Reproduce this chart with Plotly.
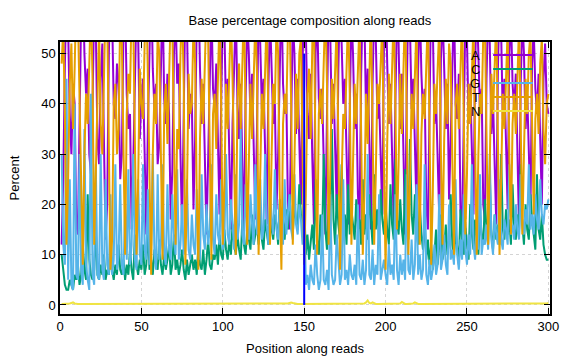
import plotly.graph_objects as go

positions = list(range(1, 301))

base_names = ["A", "C", "G", "T", "N"]
base_colors = ["#9400D3", "#009E73", "#56B4E9", "#E69F00", "#F0E442"]

A = [
    12,25,48,62,55,38,30,44,40,16,14,35,58,66,50,42,47,30,26,40,
    60,55,33,28,45,52,36,13,20,50,63,58,40,37,48,44,25,30,55,61,
    42,35,38,15,28,47,60,54,33,41,45,30,14,36,52,65,47,39,44,28,
    32,55,62,41,36,46,38,17,27,50,58,44,48,30,15,38,61,56,35,42,
    40,19,33,57,64,47,36,44,30,14,29,52,60,43,39,48,34,18,40,58,
    55,38,45,30,15,36,54,59,40,33,44,27,13,41,57,50,37,46,31,17,
    35,60,52,39,45,28,16,43,58,47,36,40,19,30,56,63,44,38,42,20,
    15,40,57,50,34,45,30,20,48,62,55,38,33,46,29,16,50,59,41,37,
    43,28,14,38,60,54,36,44,31,19,47,63,52,40,45,30,16,39,58,50,
    35,42,22,16,46,61,57,38,47,33,15,44,59,53,37,41,28,18,52,64,
    48,36,44,30,16,40,58,52,35,46,29,14,42,62,55,39,45,32,19,47,
    60,46,38,43,20,15,45,63,56,36,41,30,17,49,58,47,35,44,21,33,
    55,61,40,37,46,19,15,42,57,53,36,44,31,18,48,60,50,38,43,20,
    17,45,59,52,34,41,28,16,47,61,54,37,45,30,19,50,58,44,39,46,
    29,15,44,57,50,35,42,30,19,48,55,43,38,46,32,20,45,52,40,38,
]

C = [
    10,7,4,3,3,5,4,3,6,5,8,4,6,12,7,5,22,9,6,5,
    7,15,6,5,8,6,10,5,7,6,9,7,5,8,6,12,7,6,9,5,
    8,6,11,7,5,14,8,6,9,7,12,6,8,15,7,9,6,11,8,7,
    13,8,6,10,7,9,12,6,8,14,7,9,6,8,11,7,5,9,6,8,
    10,7,9,6,12,8,7,11,6,9,13,8,7,10,9,12,8,14,10,9,
    15,11,9,13,10,16,12,10,14,11,9,17,12,10,15,13,11,18,12,14,
    16,12,19,13,11,17,14,12,20,15,13,18,16,12,21,14,17,13,19,15,
    22,16,14,20,17,15,24,18,16,21,10,14,9,12,16,11,25,13,10,18,
    12,30,15,11,20,14,35,17,12,22,16,13,28,15,18,12,24,14,19,16,
    13,21,15,17,12,25,14,18,13,22,16,12,26,15,19,13,23,17,14,20,
    15,12,24,16,13,29,17,14,21,15,12,27,16,13,33,18,14,22,15,12,
    20,14,11,17,9,13,8,12,7,10,15,8,12,18,9,11,16,10,13,22,
    12,9,15,11,8,19,13,10,16,12,9,20,14,11,17,13,10,18,14,12,
    21,15,12,26,14,11,18,13,16,12,30,15,13,19,14,17,12,24,15,13,
    18,14,28,16,12,20,15,13,22,17,14,11,26,15,13,18,12,10,9,9,
]

G = [
    30,12,8,45,5,25,4,3,40,6,5,30,7,4,35,8,5,3,42,6,
    4,28,6,5,30,7,5,25,8,6,22,6,9,28,7,10,24,8,6,20,
    9,27,8,12,30,9,7,25,10,8,28,11,9,23,8,12,30,10,7,26,
    9,12,28,10,8,24,11,9,22,13,10,27,9,12,20,10,14,25,11,9,
    18,12,10,23,13,9,26,14,11,20,12,15,28,13,10,22,14,12,25,11,
    13,30,14,12,21,15,11,26,13,16,35,14,12,24,15,13,22,16,12,28,
    14,17,25,13,15,30,16,12,23,17,14,27,15,13,20,16,12,25,14,18,
    22,15,13,26,16,14,20,17,12,24,4,6,3,8,5,4,12,6,3,5,
    18,5,4,7,3,22,6,4,5,14,8,4,6,25,5,7,4,10,6,5,
    8,4,20,6,5,9,4,7,30,6,5,11,4,8,6,22,5,7,9,6,
    4,12,6,8,5,22,7,4,10,6,9,5,26,7,6,13,5,8,24,6,
    10,5,7,28,6,4,9,5,7,12,6,8,22,7,9,14,8,6,20,9,
    11,8,25,10,7,13,9,22,11,8,14,10,28,12,9,15,11,26,10,13,
    12,16,11,30,13,10,18,14,12,25,13,11,17,15,12,28,14,16,13,20,
    15,13,26,17,14,19,16,28,15,18,14,22,17,15,25,18,16,20,19,21,
]

T = [
    48,55,38,12,25,44,52,35,47,62,58,40,22,8,30,42,36,50,60,45,
    12,26,48,55,36,30,45,60,57,32,7,13,40,44,30,35,58,52,26,10,
    38,46,42,60,56,33,10,24,47,40,37,52,62,45,28,6,30,42,36,54,
    50,25,9,38,44,32,42,58,55,30,12,35,31,50,60,44,8,22,46,38,
    40,56,48,22,7,33,45,36,52,60,53,28,9,38,42,31,47,58,40,12,
    24,44,35,50,58,45,26,10,40,48,35,52,60,38,12,28,44,33,50,57,
    46,10,26,42,35,52,58,37,12,30,44,40,56,50,22,7,36,42,38,54,
    58,40,12,28,46,35,50,53,32,8,22,42,47,33,52,58,28,10,38,43,
    36,52,60,44,12,26,45,37,50,56,32,7,25,38,35,50,58,42,12,28,
    44,36,54,57,34,10,22,42,32,46,58,36,12,26,44,40,52,56,28,7,
    32,46,36,52,58,40,15,28,46,34,52,60,38,10,24,42,35,48,56,34,
    12,34,42,37,54,58,35,8,22,44,38,50,56,30,12,33,45,36,52,48,
    25,10,40,44,35,55,58,38,14,26,44,36,49,56,32,10,30,42,38,54,
    56,36,12,28,46,38,52,57,33,10,25,42,35,50,55,30,14,36,42,34,
    50,56,36,14,30,45,38,50,54,32,18,37,42,34,48,53,35,28,40,42,
]

N = [
    0.2,0.2,0.2,0.2,0.2,0.3,0.4,0.5,0.3,0.2,0.2,0.2,0.2,0.2,0.2,0.2,0.2,0.2,0.2,0.2,
    0.2,0.2,0.2,0.2,0.2,0.2,0.2,0.2,0.2,0.2,0.2,0.2,0.2,0.2,0.2,0.2,0.2,0.2,0.2,0.2,
    0.2,0.2,0.2,0.2,0.2,0.2,0.2,0.2,0.2,0.2,0.2,0.2,0.2,0.2,0.2,0.2,0.2,0.2,0.2,0.2,
    0.2,0.2,0.2,0.2,0.2,0.2,0.2,0.2,0.2,0.2,0.2,0.2,0.2,0.2,0.2,0.2,0.2,0.2,0.2,0.2,
    0.2,0.2,0.2,0.2,0.2,0.2,0.2,0.2,0.2,0.2,0.2,0.2,0.2,0.2,0.2,0.2,0.2,0.2,0.2,0.2,
    0.2,0.2,0.2,0.2,0.2,0.2,0.2,0.2,0.2,0.2,0.2,0.2,0.2,0.2,0.2,0.2,0.2,0.2,0.2,0.2,
    0.2,0.2,0.2,0.2,0.2,0.2,0.2,0.2,0.2,0.2,0.2,0.2,0.2,0.2,0.2,0.2,0.2,0.2,0.2,0.3,
    0.4,0.5,0.4,0.3,0.2,0.2,0.2,0.2,0.2,0.2,0.2,0.2,0.2,0.2,0.2,0.2,0.2,0.2,0.2,0.2,
    0.2,0.2,0.2,0.2,0.2,0.2,0.2,0.2,0.2,0.2,0.2,0.2,0.2,0.2,0.2,0.2,0.2,0.2,0.2,0.2,
    0.2,0.2,0.2,0.2,0.2,0.2,0.3,0.5,0.9,0.4,0.3,0.5,0.3,0.2,0.2,0.2,0.2,0.2,0.2,0.2,
    0.3,0.2,0.2,0.2,0.2,0.2,0.2,0.2,0.3,0.6,0.3,0.2,0.2,0.2,0.2,0.2,0.3,0.5,0.3,0.2,
    0.2,0.2,0.2,0.2,0.2,0.2,0.2,0.2,0.2,0.2,0.2,0.2,0.2,0.2,0.2,0.2,0.2,0.2,0.2,0.2,
    0.2,0.2,0.2,0.2,0.2,0.2,0.2,0.2,0.2,0.2,0.2,0.2,0.2,0.2,0.2,0.2,0.2,0.2,0.2,0.2,
    0.2,0.2,0.2,0.2,0.2,0.2,0.2,0.2,0.2,0.2,0.2,0.2,0.2,0.2,0.2,0.2,0.2,0.2,0.2,0.2,
    0.2,0.2,0.2,0.2,0.2,0.2,0.2,0.2,0.2,0.2,0.2,0.2,0.2,0.2,0.2,0.2,0.2,0.2,0.3,0.4,
]

separator_x = [150, 150]
separator_y = [0, 50]

x_ticks = [0, 50, 100, 150, 200, 250, 300]
y_ticks = [0, 10, 20, 30, 40, 50]

FONT = "Liberation Sans, Arial, sans-serif"

fig = go.Figure()
series = [A, C, G, T, N]
for name, color, vals in zip(base_names, base_colors, series):
    fig.add_trace(go.Scatter(
        x=positions, y=vals, mode="lines", name=name,
        line=dict(color=color, width=2), showlegend=False,
        cliponaxis=True,
    ))

fig.add_trace(go.Scatter(
    x=separator_x, y=separator_y, mode="lines",
    line=dict(color="#0000FF", width=2), showlegend=False,
))

# gnuplot-style key: label on left, line sample on right
key_label_x = 0.861
key_line_x0 = 0.884
key_line_x1 = 0.965
key_top = 0.952
key_step = 0.0515
for i, (name, color) in enumerate(zip(base_names, base_colors)):
    yk = key_top - i * key_step
    fig.add_annotation(
        x=key_label_x, y=yk, xref="paper", yref="paper",
        text=name, showarrow=False, xanchor="right", yanchor="middle",
        font=dict(family=FONT, size=13, color="black"),
    )
    fig.add_shape(
        type="line", xref="paper", yref="paper",
        x0=key_line_x0, x1=key_line_x1, y0=yk, y1=yk,
        line=dict(color=color, width=2),
    )

axis_common = dict(
    showline=True, linecolor="black", linewidth=1.5, mirror="allticks",
    ticks="inside", ticklen=6, tickcolor="black", tickwidth=1,
    showgrid=True, gridcolor="#d4d4d4", griddash="dot", gridwidth=1,
    zeroline=False, automargin=False,
    tickfont=dict(family=FONT, size=13, color="black"),
)

fig.update_layout(
    width=576, height=360,
    margin=dict(l=60, r=26, t=42, b=46),
    paper_bgcolor="white", plot_bgcolor="white",
    title=dict(
        text="Base percentage composition along reads",
        x=0.538, xref="container", xanchor="center",
        y=1 - 20 / 360, yref="container", yanchor="middle",
        font=dict(family=FONT, size=13, color="black"),
    ),
    xaxis=dict(
        range=[0, 301], tickvals=x_ticks,
        title=dict(text="Position along reads", standoff=11,
                   font=dict(family=FONT, size=13, color="black")),
        **axis_common,
    ),
    yaxis=dict(
        range=[-1.8, 52.3], tickvals=y_ticks,
        title=dict(text="Percent", standoff=19,
                   font=dict(family=FONT, size=13, color="black")),
        **axis_common,
    ),
)

fig.write_html(
    "out.html",
    config={"displayModeBar": False},
    post_script="document.body.style.margin='0';document.body.style.overflow='hidden';",
)
